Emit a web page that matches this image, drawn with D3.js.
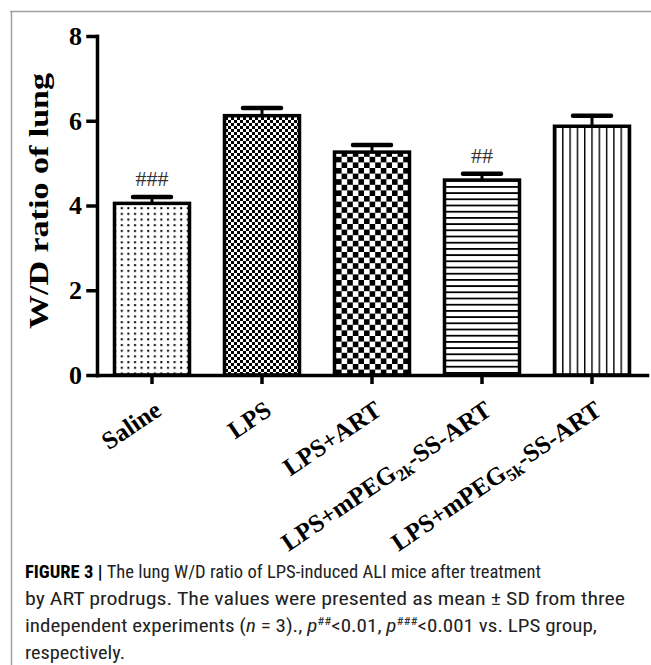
<!DOCTYPE html>
<html>
<head>
<meta charset="utf-8">
<script src="https://cdn.jsdelivr.net/npm/d3@7"></script>
<style>
  html, body { margin: 0; padding: 0; background: #fff; }
  svg { display: block; }
</style>
</head>
<body>
<svg id="chart" width="651" height="665"></svg>
<script>
// ---- data ----
const categories = ["Saline", "LPS", "LPS+ART", "LPS+mPEG2k-SS-ART", "LPS+mPEG5k-SS-ART"];
const labelParts = [
  [["Saline", false]],
  [["LPS", false]],
  [["LPS+ART", false]],
  [["LPS+mPEG", false], ["2k", true], ["-SS-ART", false]],
  [["LPS+mPEG", false], ["5k", true], ["-SS-ART", false]]
];
const means = [4.05, 6.12, 5.26, 4.60, 5.87];
const sds = [0.15, 0.18, 0.17, 0.15, 0.25];
const marks = ["###", "", "", "##", ""];
const patterns = ["dots", "fineChecker", "coarseChecker", "hLines", "vLines"];
const yTicks = [0, 2, 4, 6, 8];
const yTitle = "W/D ratio of lung";

const svg = d3.select("#chart");
const serif = "'Liberation Serif', 'Times New Roman', serif";

// ---- frame ----
svg.append("line").attr("x1", 10).attr("x2", 651).attr("y1", 11.5).attr("y2", 11.5)
  .attr("stroke", "#a0a0a0").attr("stroke-width", 1.5);
svg.append("line").attr("x1", 11.5).attr("x2", 11.5).attr("y1", 11).attr("y2", 665)
  .attr("stroke", "#a0a0a0").attr("stroke-width", 1.5);

// ---- patterns ----
const defs = svg.append("defs");
function pat(id, w, h) {
  const p = defs.append("pattern").attr("id", id).attr("patternUnits", "userSpaceOnUse")
    .attr("width", w).attr("height", h);
  p.append("rect").attr("width", w).attr("height", h).attr("fill", "#fff");
  return p;
}
let p = pat("dots", 6.6, 5.7);
p.append("rect").attr("x", 2).attr("y", 2).attr("width", 2).attr("height", 2).attr("fill", "#000");
p = pat("fineChecker", 6, 6);
p.append("rect").attr("x", 0).attr("y", 0).attr("width", 3).attr("height", 3).attr("fill", "#000");
p.append("rect").attr("x", 3).attr("y", 3).attr("width", 3).attr("height", 3).attr("fill", "#000");
p = pat("coarseChecker", 11.2, 11.2);
p.append("rect").attr("x", 0).attr("y", 0).attr("width", 5.6).attr("height", 5.6).attr("fill", "#000");
p.append("rect").attr("x", 5.6).attr("y", 5.6).attr("width", 5.6).attr("height", 5.6).attr("fill", "#000");
p = pat("hLines", 10, 6.2);
p.append("rect").attr("x", 0).attr("y", 0).attr("width", 10).attr("height", 1.8).attr("fill", "#000");
p = pat("vLines", 7.3, 10);
p.append("rect").attr("x", 0).attr("y", 0).attr("width", 1.4).attr("height", 10).attr("fill", "#000");

// ---- scales ----
const x = d3.scaleBand().domain(categories).range([97, 647]).paddingInner(0.318).paddingOuter(0.159);
const y = d3.scaleLinear().domain([0, 8]).range([375, 36]);

// ---- bars ----
svg.append("g").selectAll("rect").data(categories).join("rect")
  .attr("x", d => x(d))
  .attr("y", (d, i) => y(means[i]))
  .attr("width", x.bandwidth())
  .attr("height", (d, i) => y(0) - y(means[i]))
  .attr("fill", (d, i) => `url(#${patterns[i]})`)
  .attr("stroke", "#000").attr("stroke-width", 3.5);

// ---- error bars ----
const eb = svg.append("g");
categories.forEach((c, i) => {
  const cx = x(c) + x.bandwidth() / 2;
  eb.append("line").attr("x1", cx).attr("x2", cx)
    .attr("y1", y(means[i])).attr("y2", y(means[i] + sds[i]))
    .attr("stroke", "#000").attr("stroke-width", 3);
  eb.append("line").attr("x1", cx - 19).attr("x2", cx + 19)
    .attr("y1", y(means[i] + sds[i])).attr("y2", y(means[i] + sds[i]))
    .attr("stroke", "#000").attr("stroke-width", 4.5).attr("stroke-linecap", "round");
  if (marks[i]) {
    eb.append("text").attr("x", cx).attr("y", y(means[i] + sds[i]) - 11)
      .attr("text-anchor", "middle").attr("font-family", serif).attr("font-size", 22)
      .attr("fill", "#333").text(marks[i]);
  }
});

// ---- axes ----
const yAxis = svg.append("g").attr("transform", "translate(97,0)")
  .call(d3.axisLeft(y).tickValues(yTicks).tickSize(9).tickSizeOuter(0).tickPadding(6));
yAxis.selectAll("path, line").attr("stroke", "#000").attr("stroke-width", 3.5).attr("stroke-linecap", "square");
yAxis.selectAll("text").attr("font-family", serif).attr("font-weight", "bold")
  .attr("font-size", 26).attr("fill", "#000");

const xAxis = svg.append("g").attr("transform", "translate(0,375)")
  .call(d3.axisBottom(x).tickSize(9).tickSizeOuter(0).tickFormat(""));
xAxis.selectAll("path, line").attr("stroke", "#000").attr("stroke-width", 3.5);
xAxis.select("path").attr("stroke-linecap", "square");

// ---- x labels ----
categories.forEach((c, i) => {
  const cx = x(c) + x.bandwidth() / 2;
  const t = svg.append("text")
    .attr("transform", `translate(${cx + 11},414) rotate(-34)`)
    .attr("text-anchor", "end").attr("font-family", serif).attr("font-weight", "bold")
    .attr("font-size", 25).attr("fill", "#000");
  labelParts[i].forEach(([s, sub]) => {
    const ts = t.append("tspan").text(s);
    if (sub) ts.attr("font-size", 17).attr("dy", 5);
    else if (t.selectAll("tspan").size() > 1) ts.attr("dy", -5);
  });
});

// ---- y title ----
svg.append("text").attr("transform", "translate(48,201) rotate(-90)")
  .attr("text-anchor", "middle").attr("font-family", serif).attr("font-weight", "bold")
  .attr("font-size", 28).attr("fill", "#000")
  .attr("textLength", 256).attr("lengthAdjust", "spacingAndGlyphs")
  .text(yTitle);

// ---- caption ----
const sans = "'Liberation Sans Narrow', 'Roboto Condensed', 'Liberation Sans', Arial, sans-serif";
const capLines = [
  { y: 578, w: 516, parts: [["FIGURE 3 | ", "b"], ["The lung W/D ratio of LPS-induced ALI mice after treatment", ""]] },
  { y: 605, w: 600, parts: [["by ART prodrugs. The values were presented as mean \u00B1 SD from three", ""]] },
  { y: 632, w: 572, parts: [["independent experiments (", ""], ["n", "i"], [" = 3)., ", ""], ["p", "i"], ["##", "sup"], ["<0.01, ", ""], ["p", "i"], ["###", "sup"], ["<0.001 vs. LPS group,", ""]] },
  { y: 659, w: 100, parts: [["respectively.", ""]] }
];
capLines.forEach(L => {
  const t = svg.append("text").attr("x", 25).attr("y", L.y)
    .attr("font-family", sans).attr("font-size", 18).attr("fill", "#222");
  let inSup = false;
  L.parts.forEach(([s, k]) => {
    const ts = t.append("tspan").text(s);
    if (k === "b") ts.attr("font-weight", "bold").attr("fill", "#000");
    if (k === "i") ts.attr("font-style", "italic");
    if (k === "sup") { ts.attr("font-size", 11).attr("dy", -7); inSup = true; }
    else if (inSup) { ts.attr("dy", 7); inSup = false; }
  });
  if (L.w) {
    const len = t.node().getComputedTextLength();
    if (Math.abs(len - L.w) > 3) t.attr("textLength", L.w).attr("lengthAdjust", "spacingAndGlyphs");
  }
});
</script>
</body>
</html>
